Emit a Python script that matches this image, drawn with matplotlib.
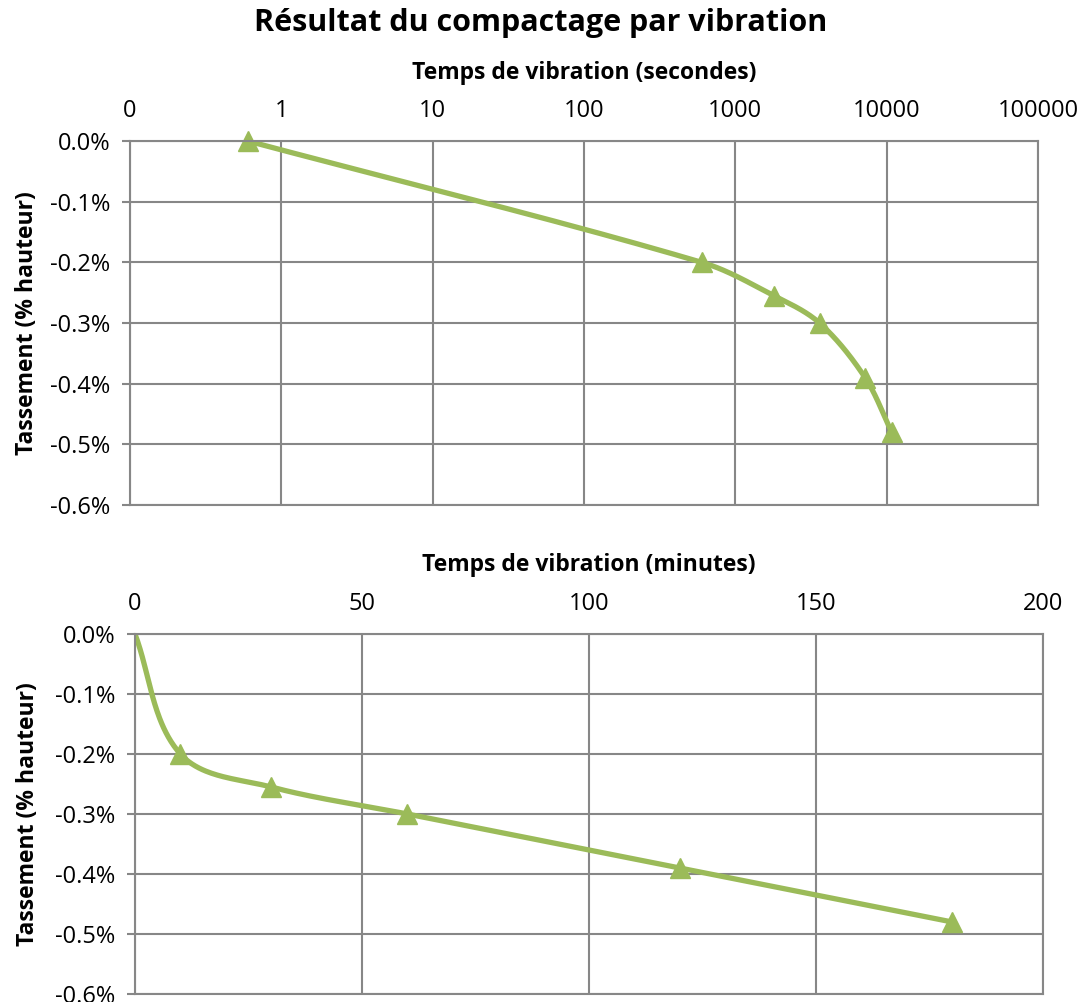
import matplotlib
matplotlib.use("Agg")
import matplotlib.pyplot as plt
import numpy as np
from matplotlib.ticker import FuncFormatter

plt.rcParams['font.family'] = ['Open Sans', 'DejaVu Sans']

# data
t_sec = [0.6, 600, 1800, 3600, 7200, 10800]
t_min = [0, 10, 30, 60, 120, 180]
tassement = [0.0, -0.20, -0.255, -0.30, -0.39, -0.48]   # % hauteur

sec_ticks = [0.1, 1, 10, 100, 1000, 10000, 100000]
sec_labels = ['0', '1', '10', '100', '1000', '10000', '100000']
min_ticks = [0, 50, 100, 150, 200]
y_ticks = [0.0, -0.1, -0.2, -0.3, -0.4, -0.5, -0.6]

GREEN = '#9BBB59'
GRID = '#878787'


def smooth(ax, x, y, n=50):
    # Excel-like smoothed line, built in display space so the log axis is handled
    pts = ax.transData.transform(np.column_stack([x, y]))
    k = len(pts)
    out = []
    for i in range(k - 1):
        p1, p2 = pts[i], pts[i + 1]
        seg = np.linalg.norm(p2 - p1)
        d1 = pts[i + 1] - pts[max(i - 1, 0)]
        d2 = pts[min(i + 2, k - 1)] - pts[i]
        c1 = p1 + d1 / np.linalg.norm(d1) * seg / 3
        c2 = p2 - d2 / np.linalg.norm(d2) * seg / 3
        t = np.linspace(0, 1, n)[:, None]
        out.append((1 - t) ** 3 * p1 + 3 * t * (1 - t) ** 2 * c1
                   + 3 * t ** 2 * (1 - t) * c2 + t ** 3 * p2)
    curve = ax.transData.inverted().transform(np.vstack(out))
    return curve[:, 0], curve[:, 1]


def style(ax):
    ax.set_ylim(-0.6, 0.0)
    ax.set_yticks(y_ticks)
    ax.yaxis.set_major_formatter(FuncFormatter(lambda v, p: f"{v:.1f}%"))
    ax.xaxis.tick_top()
    ax.xaxis.set_label_position('top')
    ax.tick_params(axis='x', length=0, pad=13, labelsize=17)
    ax.tick_params(axis='y', length=6, width=1.5, color=GRID, pad=8, labelsize=17)
    ax.grid(True, color=GRID, linewidth=1.5)
    ax.set_axisbelow(True)
    for s in ax.spines.values():
        s.set_color(GRID)
        s.set_linewidth(1.5)
    ax.set_ylabel('Tassement (% hauteur)', fontsize=16.5, fontweight='bold')
    ax.yaxis.set_label_coords(-0.1, 0.5)


fig = plt.figure(figsize=(10.81, 10.02), dpi=100)
W, H = 1081, 1002

ax1 = fig.add_axes([130 / W, 1 - 505 / H, 908 / W, 364 / H])
ax1.set_xscale('log')
ax1.set_xlim(0.1, 100000)
ax1.set_xticks(sec_ticks)
ax1.set_xticklabels(sec_labels)
ax1.xaxis.set_minor_locator(matplotlib.ticker.NullLocator())
style(ax1)
ax1.set_xlabel('Temps de vibration (secondes)', fontsize=16.5, fontweight='bold')
ax1.xaxis.set_label_coords(0.5, 1.17)

ax2 = fig.add_axes([135 / W, 1 - 994 / H, 908 / W, 360 / H])
ax2.set_xlim(0, 200)
ax2.set_xticks(min_ticks)
style(ax2)
ax2.yaxis.set_label_coords(-0.105, 0.5)
ax2.set_xlabel('Temps de vibration (minutes)', fontsize=16.5, fontweight='bold')
ax2.xaxis.set_label_coords(0.5, 1.175)

lx, ly = smooth(ax1, t_sec, tassement)
ax1.plot(lx, ly, color=GREEN, linewidth=3.8, solid_capstyle='round')
ax1.plot(t_sec, tassement, linestyle='none', marker='^', markersize=15,
         color=GREEN, clip_on=False)

sx, sy = smooth(ax2, t_min, tassement)
ax2.plot(sx, sy, color=GREEN, linewidth=3.8, solid_capstyle='round')
ax2.plot(t_min[1:], tassement[1:], linestyle='none', marker='^', markersize=15,
         color=GREEN, clip_on=False)

fig.text(0.5, 1 - 23 / H, 'Résultat du compactage par vibration',
         ha='center', va='center', fontsize=22, fontweight='bold')

fig.savefig('out.png', dpi=100)
